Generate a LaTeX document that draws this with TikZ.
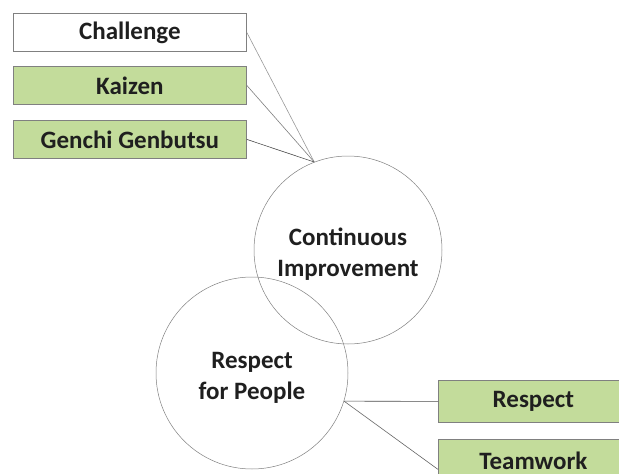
\documentclass[tikz,border=0pt]{standalone}
\usepackage{fontspec}
\setmainfont{Carlito}
\begin{document}
\begin{tikzpicture}[x=1pt,y=-1pt,
  label box/.style={draw=black!50, line width=0.8pt, minimum width=233pt, minimum height=38pt,
    inner sep=0pt, font=\bfseries\fontsize{25}{30}\selectfont, text=black!88, anchor=north west},
  green box/.style={label box, fill=leafgreen},
  pillar/.style={draw=black!50, line width=0.5pt, circle, minimum size=188pt, inner sep=0pt,
    align=center, font=\bfseries\fontsize{25}{31}\selectfont, text=black!88},
  link/.style={draw=black!60, line width=0.6pt}]
\definecolor{leafgreen}{HTML}{C3DC9B}
\clip (0,0) rectangle (619,474);
\fill[white] (0,0) rectangle (619,474);

% two pillars (strut on the first line sets the text a little lower)
\node[pillar] (ci) at (348,250) {\rule{0pt}{25pt}Continuous\\Improvement};
\node[pillar, minimum size=192pt] (rp) at (252,373) {\rule{0pt}{25pt}Respect\\for People};

% principles under continuous improvement
\node[label box, fill=white] (ch) at (13,13) {Challenge};
\node[green box] (kz) at (13,66) {Kaizen};
\node[green box] (gg) at (13,120) {Genchi Genbutsu};

% principles under respect for people
\node[green box, minimum width=190pt, minimum height=42pt] (rs) at (438,380) {Respect};
\node[green box, minimum width=190pt, minimum height=42pt] (tw) at (438,439) {Teamwork};

\coordinate (ciTop) at (ci.111);
\coordinate (rpSide) at (rp.-17);

\draw[link, draw=black!40] (ch.east) -- (ciTop);
\draw[link, draw=black!50] (kz.east) -- (ciTop);
\draw[link, draw=black!70] (gg.east) -- (ciTop);
\draw[link, draw=black!70] (rpSide) -- (rs.west);
\draw[link, draw=black!60] (rpSide) -- ([yshift=-9pt]tw.west);
\end{tikzpicture}
\end{document}
